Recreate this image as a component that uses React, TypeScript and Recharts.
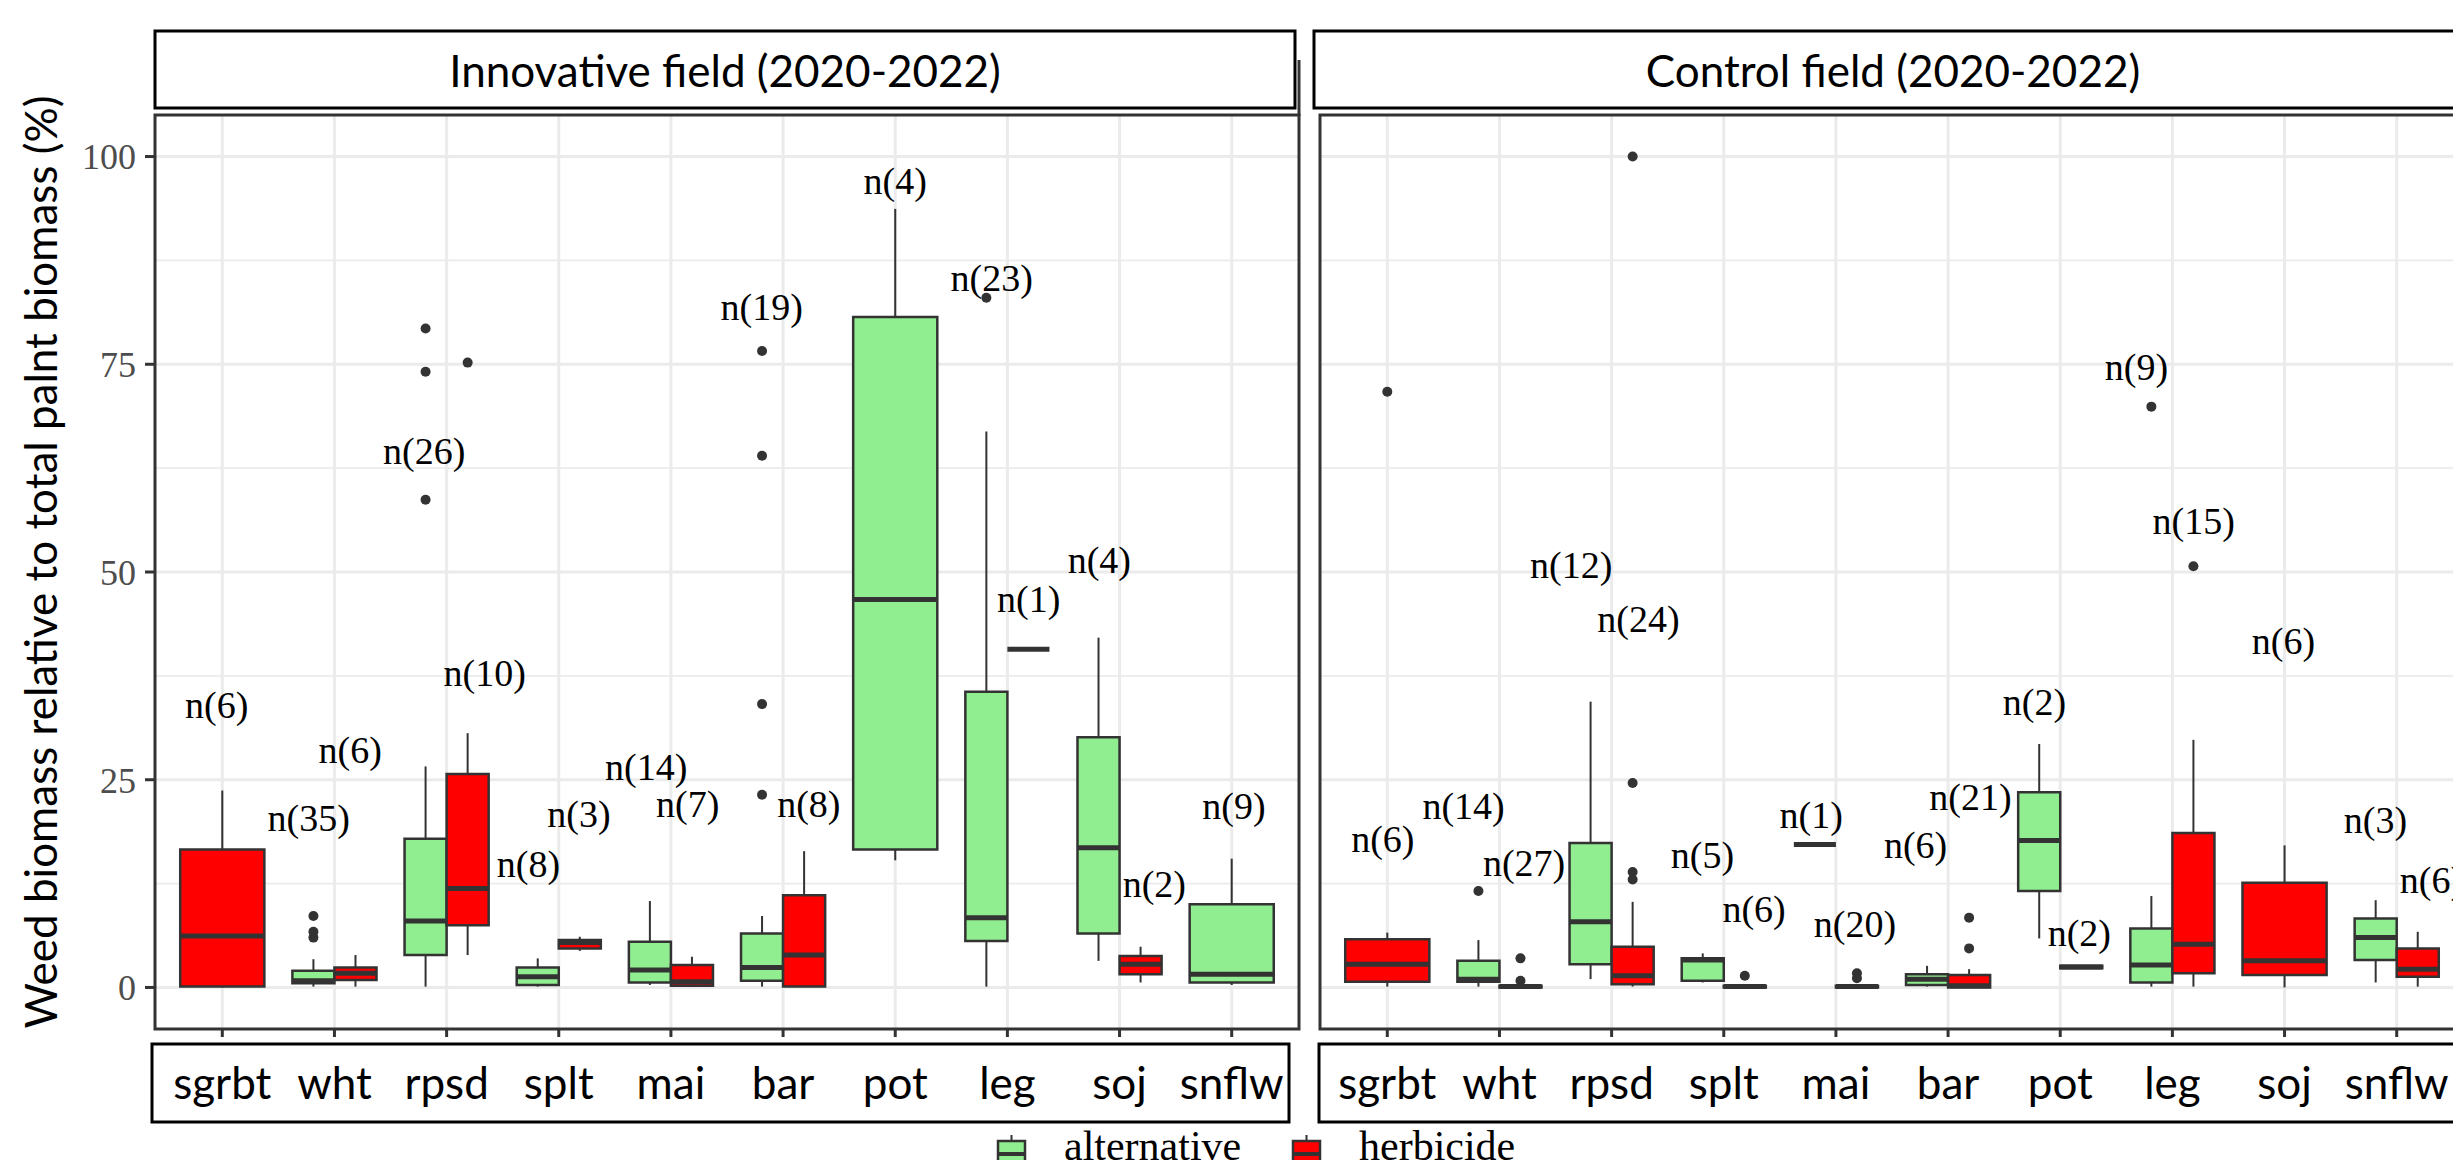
import React from 'react';
import {
  ComposedChart,
  XAxis,
  YAxis,
  CartesianGrid,
  ReferenceArea,
  ReferenceLine,
  Scatter,
} from 'recharts';

const CROPS = ['sgrbt', 'wht', 'rpsd', 'splt', 'mai', 'bar', 'pot', 'leg', 'soj', 'snflw'];
const X_TICKS = CROPS.map((_, i) => i + 1);
const Y_TICKS = [0, 25, 50, 75, 100];
const Y_MINOR = [12.5, 37.5, 62.5, 87.5];
const GROUPS = ['alternative', 'herbicide'];
const GROUP_FILL: Record<string, string> = { alternative: '#90EE90', herbicide: '#FF0000' };

const PANEL_TITLES = ['Innovative field (2020-2022)', 'Control field (2020-2022)'];
const Y_TITLE = 'Weed biomass relative to total palnt biomass (%)';

// crop, group, lower whisker, q1, median, q3, upper whisker
type Box = [string, string, number, number, number, number, number];
// crop, group, value
type Outlier = [string, string, number];
// text, x (1 = first crop), y
type NLabel = [string, number, number];

const INNOVATIVE_BOXES: Box[] = [
  ['sgrbt', 'herbicide', 0, 0.1, 6.2, 16.6, 23.7],
  ['wht', 'alternative', 0.1, 0.5, 0.8, 2.0, 3.4],
  ['wht', 'herbicide', 0.1, 0.9, 1.7, 2.4, 3.9],
  ['rpsd', 'alternative', 0.1, 3.9, 8.0, 17.9, 26.6],
  ['rpsd', 'herbicide', 3.9, 7.5, 11.9, 25.7, 30.6],
  ['splt', 'alternative', 0.1, 0.3, 1.3, 2.4, 3.5],
  ['splt', 'herbicide', 4.4, 4.7, 5.4, 5.7, 6.1],
  ['mai', 'alternative', 0.3, 0.6, 2.1, 5.5, 10.4],
  ['mai', 'herbicide', 0.1, 0.2, 0.7, 2.7, 3.7],
  ['bar', 'alternative', 0.1, 0.8, 2.4, 6.5, 8.6],
  ['bar', 'herbicide', 0.1, 0.1, 3.9, 11.1, 16.4],
  ['pot', 'alternative', 15.3, 16.6, 46.7, 80.7, 93.7],
  ['leg', 'alternative', 0.1, 5.6, 8.4, 35.6, 66.9],
  ['leg', 'herbicide', 40.7, 40.7, 40.7, 40.7, 40.7],
  ['soj', 'alternative', 3.2, 6.5, 16.8, 30.1, 42.1],
  ['soj', 'herbicide', 0.6, 1.6, 2.8, 3.8, 4.9],
  ['snflw', 'alternative', 0.3, 0.6, 1.6, 10.0, 15.5],
];

const INNOVATIVE_OUTLIERS: Outlier[] = [
  ['wht', 'alternative', 8.6],
  ['wht', 'alternative', 6.7],
  ['wht', 'alternative', 6.0],
  ['rpsd', 'alternative', 79.3],
  ['rpsd', 'alternative', 74.1],
  ['rpsd', 'alternative', 58.7],
  ['rpsd', 'herbicide', 75.2],
  ['bar', 'alternative', 76.6],
  ['bar', 'alternative', 64.0],
  ['bar', 'alternative', 34.1],
  ['bar', 'alternative', 23.2],
  ['leg', 'alternative', 83.0],
];

const INNOVATIVE_LABELS: NLabel[] = [
  ['n(6)', 0.95, 34.0],
  ['n(35)', 1.77, 20.4],
  ['n(6)', 2.14, 28.6],
  ['n(26)', 2.8, 64.6],
  ['n(10)', 3.34, 37.8],
  ['n(8)', 3.73, 14.8],
  ['n(3)', 4.18, 20.9],
  ['n(14)', 4.78, 26.5],
  ['n(7)', 5.15, 22.1],
  ['n(19)', 5.81, 81.9],
  ['n(8)', 6.23, 22.1],
  ['n(4)', 7.0, 97.1],
  ['n(23)', 7.86, 85.4],
  ['n(1)', 8.19, 46.8],
  ['n(4)', 8.82, 51.5],
  ['n(2)', 9.31, 12.5],
  ['n(9)', 10.02, 21.8],
];

const CONTROL_BOXES: Box[] = [
  ['sgrbt', 'herbicide', 0.1, 0.7, 2.8, 5.8, 6.6],
  ['wht', 'alternative', 0.1, 0.7, 1.0, 3.2, 5.7],
  ['wht', 'herbicide', 0, 0, 0.1, 0.2, 0.3],
  ['rpsd', 'alternative', 1.0, 2.8, 7.9, 17.4, 34.4],
  ['rpsd', 'herbicide', 0.1, 0.4, 1.4, 4.9, 10.3],
  ['splt', 'alternative', 0.6, 0.8, 3.3, 3.5, 4.1],
  ['splt', 'herbicide', 0, 0, 0.1, 0.2, 0.3],
  ['mai', 'alternative', 17.2, 17.2, 17.2, 17.2, 17.2],
  ['mai', 'herbicide', 0, 0, 0.1, 0.2, 0.3],
  ['bar', 'alternative', 0.1, 0.3, 1.0, 1.6, 2.6],
  ['bar', 'herbicide', 0, 0, 0.2, 1.5, 2.2],
  ['pot', 'alternative', 5.9, 11.6, 17.7, 23.5, 29.3],
  ['pot', 'herbicide', 2.3, 2.3, 2.45, 2.6, 2.6],
  ['leg', 'alternative', 0.1, 0.6, 2.7, 7.1, 11.0],
  ['leg', 'herbicide', 0.1, 1.7, 5.2, 18.6, 29.8],
  ['soj', 'herbicide', 0, 1.5, 3.2, 12.6, 17.1],
  ['snflw', 'alternative', 0.6, 3.3, 6.0, 8.3, 10.5],
  ['snflw', 'herbicide', 0.1, 1.3, 2.2, 4.7, 6.7],
];

const CONTROL_OUTLIERS: Outlier[] = [
  ['sgrbt', 'herbicide', 71.7],
  ['wht', 'alternative', 11.6],
  ['wht', 'herbicide', 3.5],
  ['wht', 'herbicide', 0.8],
  ['rpsd', 'herbicide', 100],
  ['rpsd', 'herbicide', 24.6],
  ['rpsd', 'herbicide', 13.9],
  ['rpsd', 'herbicide', 13.0],
  ['splt', 'herbicide', 1.4],
  ['mai', 'herbicide', 1.7],
  ['mai', 'herbicide', 1.1],
  ['bar', 'herbicide', 8.4],
  ['bar', 'herbicide', 4.7],
  ['leg', 'alternative', 69.9],
  ['leg', 'herbicide', 50.7],
];

const CONTROL_LABELS: NLabel[] = [
  ['n(6)', 0.96, 17.9],
  ['n(14)', 1.68, 21.8],
  ['n(27)', 2.22, 15.0],
  ['n(12)', 2.64, 50.9],
  ['n(24)', 3.24, 44.3],
  ['n(5)', 3.81, 16.0],
  ['n(6)', 4.27, 9.4],
  ['n(1)', 4.78, 20.8],
  ['n(20)', 5.17, 7.6],
  ['n(6)', 5.71, 17.1],
  ['n(21)', 6.2, 22.9],
  ['n(2)', 6.77, 34.3],
  ['n(2)', 7.17, 6.6],
  ['n(9)', 7.68, 74.7],
  ['n(15)', 8.19, 56.1],
  ['n(6)', 8.99, 41.7],
  ['n(3)', 9.81, 20.1],
  ['n(6)', 10.31, 12.9],
];

const SANS = 'Lato, "Open Sans", sans-serif';
const SERIF = '"Liberation Serif", "DejaVu Serif", serif';
const INK = '#333333';

// ggplot-style dodge: boxes 0.75 wide, split in two when both groups exist
function boxSpan(boxes: Box[], crop: string, group: string): [number, number] {
  const c = CROPS.indexOf(crop) + 1;
  const both = GROUPS.every((g) => boxes.some((b) => b[0] === crop && b[1] === g));
  if (!both) return [c - 0.375, c + 0.375];
  return group === GROUPS[0] ? [c - 0.375, c] : [c, c + 0.375];
}

function CropTick(props: any) {
  const { x, y, payload } = props;
  return (
    <text x={x} y={y + 62} textAnchor="middle" fontFamily={SANS} fontSize={44} fill="#000">
      {CROPS[payload.value - 1]}
    </text>
  );
}

function Panel({
  boxes,
  outliers,
  labels,
  showY,
  left,
  width,
}: {
  boxes: Box[];
  outliers: Outlier[];
  labels: NLabel[];
  showY: boolean;
  left: number;
  width: number;
}) {
  const outlierPts = outliers.map(([crop, group, v]) => {
    const [a, b] = boxSpan(boxes, crop, group);
    return { x: (a + b) / 2, y: v };
  });
  const labelPts = labels.map(([text, x, y]) => ({ x, y, text }));

  return (
    <div style={{ position: 'absolute', left, top: 0 }}>
      <ComposedChart width={width} height={1160} margin={{ top: 115, right: 0, bottom: 0, left: 0 }}>
        <CartesianGrid horizontalValues={Y_MINOR} vertical={false} stroke="#EBEBEB" strokeWidth={1.8} />
        <CartesianGrid horizontalValues={Y_TICKS} verticalValues={X_TICKS} stroke="#EBEBEB" strokeWidth={3} />
        <XAxis
          type="number"
          dataKey="x"
          domain={[0.4, 10.6]}
          ticks={X_TICKS}
          interval={0}
          allowDataOverflow
          height={131}
          tickSize={8}
          tickMargin={0}
          axisLine={false}
          tickLine={{ stroke: INK, strokeWidth: 3 }}
          tick={CropTick}
        />
        <YAxis
          type="number"
          dataKey="y"
          domain={[-5, 105]}
          ticks={Y_TICKS}
          allowDataOverflow
          hide={!showY}
          width={155}
          tickSize={10}
          tickMargin={9}
          axisLine={false}
          tickLine={{ stroke: INK, strokeWidth: 3 }}
          tick={{ fill: '#4D4D4D', fontSize: 36, fontFamily: SERIF }}
          label={{
            value: Y_TITLE,
            angle: -90,
            position: 'center',
            dx: -36,
            dy: -10,
            style: { fontFamily: SANS, fontSize: 44, fill: '#000', textAnchor: 'middle' },
          }}
        />
        {boxes.map(([crop, group, lo, q1, med, q3, hi]) => {
          const [a, b] = boxSpan(boxes, crop, group);
          const c = (a + b) / 2;
          return [
            <ReferenceLine
              key={`wu-${crop}-${group}`}
              segment={[{ x: c, y: q3 }, { x: c, y: hi }]}
              stroke={INK}
              strokeWidth={2}
            />,
            <ReferenceLine
              key={`wl-${crop}-${group}`}
              segment={[{ x: c, y: lo }, { x: c, y: q1 }]}
              stroke={INK}
              strokeWidth={2}
            />,
            <ReferenceArea
              key={`b-${crop}-${group}`}
              x1={a}
              x2={b}
              y1={q1}
              y2={q3}
              fill={GROUP_FILL[group]}
              fillOpacity={1}
              stroke={INK}
              strokeWidth={2.5}
            />,
            <ReferenceLine
              key={`m-${crop}-${group}`}
              segment={[{ x: a, y: med }, { x: b, y: med }]}
              stroke={INK}
              strokeWidth={5}
            />,
          ];
        })}
        <Scatter
          data={outlierPts}
          fill={INK}
          isAnimationActive={false}
          shape={(p: any) => <circle cx={p.cx} cy={p.cy} r={5} fill={INK} />}
        />
        <Scatter
          data={labelPts}
          isAnimationActive={false}
          shape={(p: any) => (
            <text
              x={p.cx}
              y={p.cy}
              textAnchor="middle"
              dominantBaseline="central"
              fontFamily={SERIF}
              fontSize={38}
              fill="#000"
            >
              {p.payload.text}
            </text>
          )}
        />
      </ComposedChart>
    </div>
  );
}

function Frames() {
  return (
    <svg
      width={2453}
      height={1160}
      style={{ position: 'absolute', left: 0, top: 0, pointerEvents: 'none' }}
    >
      {/* facet strips */}
      <rect x={155} y={31} width={1140} height={77} fill="#fff" stroke="#000" strokeWidth={3} />
      <line x1={1299} y1={60} x2={1299} y2={116} stroke={INK} strokeWidth={3} />
      <text x={725} y={87} textAnchor="middle" fontFamily={SANS} fontSize={44} fill="#000">
        {PANEL_TITLES[0]}
      </text>
      <rect x={1314} y={31} width={1160} height={77} fill="#fff" stroke="#000" strokeWidth={3} />
      <text x={1893} y={87} textAnchor="middle" fontFamily={SANS} fontSize={44} fill="#000">
        {PANEL_TITLES[1]}
      </text>

      {/* panel borders */}
      <rect x={155} y={115} width={1144} height={914} fill="none" stroke={INK} strokeWidth={3} />
      <rect x={1320} y={115} width={1160} height={914} fill="none" stroke={INK} strokeWidth={3} />

      {/* boxes round the crop labels */}
      <rect x={152} y={1044} width={1137} height={78} fill="none" stroke="#000" strokeWidth={3} />
      <rect x={1319} y={1044} width={1160} height={78} fill="none" stroke="#000" strokeWidth={3} />

      {/* legend */}
      {GROUPS.map((g, i) => {
        const kx = 998 + i * 295;
        return (
          <g key={g}>
            <line x1={kx + 13.5} y1={1135} x2={kx + 13.5} y2={1141} stroke={INK} strokeWidth={2} />
            <rect x={kx} y={1141} width={27} height={30} fill={GROUP_FILL[g]} stroke={INK} strokeWidth={2.5} />
            <line x1={kx} y1={1154} x2={kx + 27} y2={1154} stroke={INK} strokeWidth={4} />
            <text x={kx + 66} y={1160} fontFamily={SERIF} fontSize={42} fill="#000">
              {g}
            </text>
          </g>
        );
      })}
    </svg>
  );
}

export default function App() {
  return (
    <div
      style={{
        position: 'fixed',
        left: 0,
        top: 0,
        width: 2453,
        height: 1160,
        overflow: 'hidden',
        background: '#fff',
      }}
    >
      <Panel
        boxes={INNOVATIVE_BOXES}
        outliers={INNOVATIVE_OUTLIERS}
        labels={INNOVATIVE_LABELS}
        showY
        left={0}
        width={1299}
      />
      <Panel
        boxes={CONTROL_BOXES}
        outliers={CONTROL_OUTLIERS}
        labels={CONTROL_LABELS}
        showY={false}
        left={1320}
        width={1144}
      />
      <Frames />
    </div>
  );
}
